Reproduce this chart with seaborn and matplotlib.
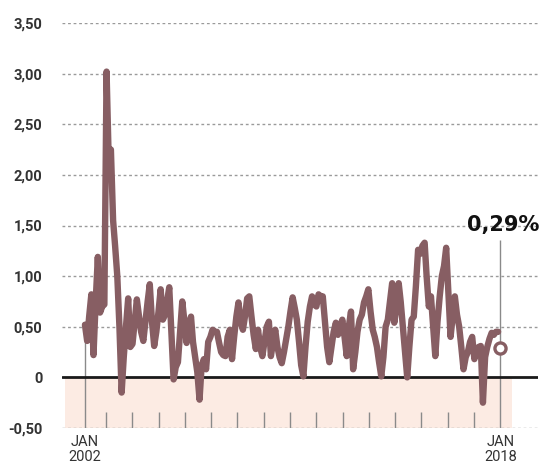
import pandas as pd
import numpy as np
import matplotlib
matplotlib.use("Agg")
import matplotlib.pyplot as plt
import seaborn as sns

sns.set_style("white")

# monthly values, Jan 2002 .. Dec 2017
valores = [
    0.52, 0.36, 0.60, 0.82, 0.22, 0.75, 1.19, 0.64, 0.70, 0.72, 3.02, 2.15,
    2.25, 1.55, 1.30, 1.00, 0.50, -0.15, 0.20, 0.50, 0.78, 0.30, 0.33, 0.55,
    0.77, 0.60, 0.45, 0.36, 0.55, 0.75, 0.92, 0.55, 0.31, 0.45, 0.65, 0.87,
    0.57, 0.62, 0.75, 0.89, 0.45, -0.02, 0.10, 0.15, 0.45, 0.75, 0.55, 0.34,
    0.50, 0.60, 0.35, 0.20, 0.05, -0.22, 0.12, 0.18, 0.08, 0.35, 0.40, 0.47,
    0.45, 0.45, 0.35, 0.25, 0.22, 0.21, 0.40, 0.47, 0.18, 0.40, 0.60, 0.74,
    0.55, 0.47, 0.60, 0.78, 0.80, 0.60, 0.42, 0.28, 0.47, 0.30, 0.21, 0.35,
    0.50, 0.55, 0.21, 0.35, 0.47, 0.30, 0.20, 0.14, 0.25, 0.37, 0.50, 0.65,
    0.79, 0.68, 0.57, 0.35, 0.12, 0.01, 0.30, 0.55, 0.70, 0.80, 0.72, 0.70,
    0.82, 0.80, 0.80, 0.55, 0.30, 0.15, 0.30, 0.45, 0.54, 0.42, 0.50, 0.57,
    0.40, 0.21, 0.50, 0.65, 0.08, 0.25, 0.45, 0.57, 0.62, 0.74, 0.80, 0.87,
    0.65, 0.47, 0.40, 0.30, 0.15, 0.01, 0.20, 0.50, 0.57, 0.75, 0.93, 0.54,
    0.70, 0.93, 0.75, 0.50, 0.25, 0.00, 0.30, 0.57, 0.60, 0.90, 1.26, 1.22,
    1.30, 1.33, 1.00, 0.70, 0.80, 0.50, 0.21, 0.55, 0.80, 1.00, 1.10, 1.28,
    0.85, 0.40, 0.60, 0.80, 0.62, 0.50, 0.30, 0.08, 0.20, 0.25, 0.35, 0.40,
    0.18, 0.25, 0.30, 0.31, -0.25, 0.20, 0.30, 0.38, 0.44, 0.42, 0.45, 0.45,
]
fechas = pd.date_range("2002-01-01", periods=len(valores), freq="MS")
ultima_fecha = pd.Timestamp("2018-01-01")
ultimo_valor = 0.29
ultimo_texto = "0,29%"

yticks = [-0.5, 0, 0.5, 1.0, 1.5, 2.0, 2.5, 3.0, 3.5]
ytick_labels = ["-0,50", "0", "0,50", "1,00", "1,50", "2,00", "2,50", "3,00", "3,50"]
xtick_labels = ["JAN\n2002", "JAN\n2018"]

color_linea = "#875e63"
color_texto = "#333333"

df = pd.DataFrame({"fecha": fechas, "valor": valores})

fig = plt.figure(figsize=(5.39, 4.71), dpi=100)
ax = fig.add_axes([62 / 539, 43 / 471, 476 / 539, 405 / 471])

# shaded negative band
ax.fill_between([pd.Timestamp("2001-03-20"), pd.Timestamp("2018-06-15")], -0.5, 0,
                color="#fcebe3", lw=0, zorder=0)

# dotted grid
for y in yticks:
    if y != 0:
        ax.axhline(y, color="#9a9a9a", lw=1, ls=(0, (2, 2)), zorder=1)
ax.axhline(0, color="#1a1a1a", lw=2, zorder=3)

# year tick marks
marcas = pd.date_range("2002-10-25", "2018-01-01", periods=16)[:-1]
ax.vlines(marcas, -0.5, -0.34, color="#8a8a8a", lw=1, zorder=2)
ax.vlines(fechas[0], -0.5, valores[0], color="#8a8a8a", lw=1, zorder=2)
ax.vlines(ultima_fecha, -0.5, 1.36, color="#8a8a8a", lw=1, zorder=2)

sns.lineplot(data=df, x="fecha", y="valor", ax=ax, color=color_linea,
             lw=4.6, zorder=4, legend=False)
ax.plot([ultima_fecha], [ultimo_valor], "o", ms=8, mfc="white",
        mec=color_linea, mew=2.4, zorder=5)
ax.annotate(ultimo_texto, (ultima_fecha, 1.5), xytext=(2, 0), textcoords="offset points",
            ha="center", va="center", fontsize=15, fontweight="heavy",
            family="DejaVu Sans", color="#111111")

ax.set_xlim(pd.Timestamp("2001-02-12"), pd.Timestamp("2019-06-15"))
ax.set_ylim(-0.5, 3.5)
ax.set_yticks(yticks)
ax.set_yticklabels(ytick_labels, family="Roboto", fontweight="bold",
                   fontsize=10.5, color=color_texto)
ax.set_xticks([fechas[0], ultima_fecha])
ax.set_xticklabels(xtick_labels, family="Roboto", fontsize=10.5,
                   color=color_texto, linespacing=1.1)
ax.tick_params(axis="both", length=0)
ax.tick_params(axis="y", pad=14)
ax.tick_params(axis="x", pad=5)
ax.set_xlabel("")
ax.set_ylabel("")
for s in ax.spines.values():
    s.set_visible(False)

fig.savefig("out.png", dpi=100)
